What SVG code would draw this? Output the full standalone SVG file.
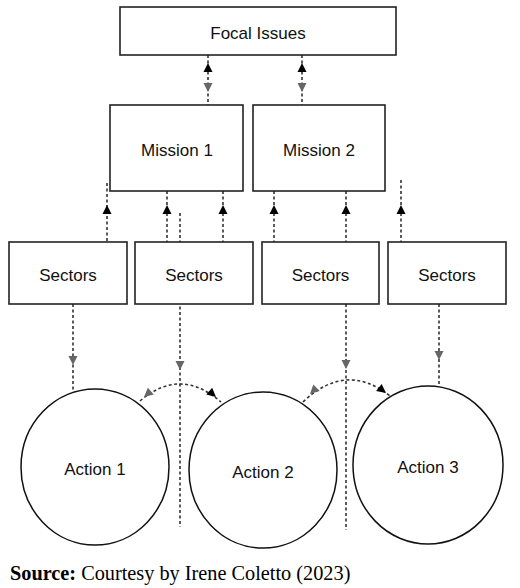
<svg xmlns="http://www.w3.org/2000/svg" xmlns:xlink="http://www.w3.org/1999/xlink" width="520" height="588" viewBox="0 0 520 588">
<style>
.box{fill:#fff;stroke:#222;stroke-width:1.6}
.circ{fill:#fff;stroke:#111;stroke-width:1.5}
.lbl{font-family:"Liberation Sans",Arial,sans-serif;font-size:17px;fill:#111;text-anchor:middle}
.dot{fill:none;stroke:#333;stroke-width:1.6;stroke-dasharray:3 2.5}
.blk{fill:#000}
.gry{fill:#666}
.src{font-family:"Liberation Serif","Times New Roman",serif;font-size:20.3px;fill:#000}
</style>
<defs>
<polygon id="ah" points="0,0 -9,-4.5 -9,4.5"/>
</defs>
<rect width="520" height="588" fill="#fff"/>
<g id="connectors">
<path class="dot" d="M208,55 V106 M302,55 V106"/>
<path class="dot" d="M107,183 V242 M167,191 V242 M180,213 V527 M223,191 V242 M274,191 V242 M346,191 V242 M346,304 V530 M401,180 V242"/>
<path class="dot" d="M73,304 V390 M439,304 V386"/>
<path class="dot" d="M140,401 Q180,366.5 221,402"/>
<path class="dot" d="M303,402 Q346,361 390,396"/>
<use href="#ah" class="blk" transform="translate(208,63) rotate(-90)"/>
<use href="#ah" class="gry" transform="translate(208,92) rotate(90)"/>
<use href="#ah" class="blk" transform="translate(302,63) rotate(-90)"/>
<use href="#ah" class="gry" transform="translate(302,92) rotate(90)"/>
<use href="#ah" class="blk" transform="translate(107,205) rotate(-90)"/>
<use href="#ah" class="blk" transform="translate(167,205) rotate(-90)"/>
<use href="#ah" class="blk" transform="translate(223,205) rotate(-90)"/>
<use href="#ah" class="blk" transform="translate(274,205) rotate(-90)"/>
<use href="#ah" class="blk" transform="translate(346,205) rotate(-90)"/>
<use href="#ah" class="blk" transform="translate(401,205) rotate(-90)"/>
<use href="#ah" class="gry" transform="translate(73,365) rotate(90)"/>
<use href="#ah" class="gry" transform="translate(180,370) rotate(90)"/>
<use href="#ah" class="gry" transform="translate(346,369) rotate(90)"/>
<use href="#ah" class="gry" transform="translate(439,360) rotate(90)"/>
<use href="#ah" class="gry" transform="translate(144,397) rotate(139)"/>
<use href="#ah" class="blk" transform="translate(216,397) rotate(41)"/>
<use href="#ah" class="gry" transform="translate(310,394) rotate(136)"/>
<use href="#ah" class="blk" transform="translate(386,393) rotate(38)"/>
</g>
<g id="focal"><rect class="box" x="120" y="7" width="276" height="48"/><text class="lbl" x="258" y="39">Focal Issues</text></g>
<g id="mission1"><rect class="box" x="110" y="105" width="133" height="86"/><text class="lbl" x="177" y="156">Mission 1</text></g>
<g id="mission2"><rect class="box" x="253" y="105" width="132" height="86"/><text class="lbl" x="319" y="156">Mission 2</text></g>
<g id="sectors1"><rect class="box" x="9" y="242" width="118" height="62"/><text class="lbl" x="68" y="281">Sectors</text></g>
<g id="sectors2"><rect class="box" x="135" y="242" width="118" height="62"/><text class="lbl" x="194" y="281">Sectors</text></g>
<g id="sectors3"><rect class="box" x="262" y="242" width="117" height="62"/><text class="lbl" x="320.5" y="281">Sectors</text></g>
<g id="sectors4"><rect class="box" x="388" y="242" width="118" height="62"/><text class="lbl" x="447" y="281">Sectors</text></g>
<g id="action1"><ellipse class="circ" cx="95" cy="467" rx="74" ry="78"/><text class="lbl" x="95" y="475">Action 1</text></g>
<g id="action2"><ellipse class="circ" cx="263" cy="470" rx="74" ry="78"/><text class="lbl" x="263" y="478">Action 2</text></g>
<g id="action3"><ellipse class="circ" cx="428" cy="465" rx="75" ry="79"/><text class="lbl" x="428" y="473">Action 3</text></g>
<text class="src" x="10" y="580"><tspan font-weight="bold">Source:</tspan> Courtesy by Irene Coletto (2023)</text>
</svg>
